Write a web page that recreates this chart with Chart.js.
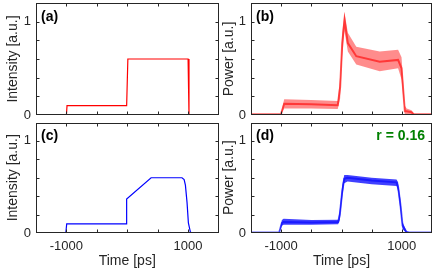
<!DOCTYPE html>
<html>
<head>
<meta charset="utf-8">
<script src="https://cdn.jsdelivr.net/npm/chart.js@4/dist/chart.umd.min.js"></script>
<style>
  html, body { margin: 0; padding: 0; background: #fff; }
  #wrap { position: relative; width: 442px; height: 271px; }
  canvas { position: absolute; }
</style>
</head>
<body>
<div id="wrap">
  <canvas id="pa" style="left:0;top:0"></canvas>
  <canvas id="pb" style="left:221px;top:0"></canvas>
  <canvas id="pc" style="left:0;top:119px"></canvas>
  <canvas id="pd" style="left:221px;top:119px"></canvas>
</div>
<script>
// (a) target intensity
const timeA = [-1500, -1000, -990, -10, 10, 1000, 1015, 1500]
const intA  = [0, 0, 0.1, 0.1, 0.6, 0.6, 0, 0]

// (c) optimised intensity
const timeC = [-1500, -1010, -995, -15, -10, 392, 900, 935, 956, 983, 1005, 1038, 1060, 1500]
const intC  = [0, 0, 0.1, 0.1, 0.37, 0.6, 0.6, 0.58, 0.52, 0.33, 0.11, 0.01, 0, 0]

// (b) measured power, red : centre of the dot cloud and its spread
const timeB  = [-1500, -1005, -950, -500, -62, -22, 12, 50, 105, 245, 633, 938, 995, 1050, 1080, 1160, 1200, 1500]
const coreB  = [0.005, 0.005, 0.12, 0.115, 0.105, 0.3, 0.77, 1.02, 0.77, 0.63, 0.57, 0.59, 0.5, 0.04, 0.04, 0.03, 0.005, 0.005]
const upperB = [0.015, 0.015, 0.17, 0.16, 0.15, 0.42, 0.88, 1.1, 0.88, 0.73, 0.68, 0.7, 0.62, 0.1, 0.07, 0.05, 0.015, 0.015]
const lowerB = [0, 0, 0.07, 0.07, 0.065, 0.18, 0.62, 0.9, 0.68, 0.54, 0.47, 0.5, 0.38, 0.0, 0.01, 0.01, 0, 0]

// (d) measured power, blue
const timeD  = [-1500, -1033, -988, -960, -500, -55, -28, 12, 45, 100, 500, 912, 938, 978, 1012, 1078, 1120, 1500]
const coreD  = [0.005, 0.005, 0.11, 0.12, 0.115, 0.12, 0.2, 0.45, 0.59, 0.6, 0.57, 0.55, 0.5, 0.3, 0.08, 0.01, 0.005, 0.005]
const upperD = [0.012, 0.012, 0.14, 0.155, 0.14, 0.145, 0.26, 0.52, 0.63, 0.63, 0.6, 0.58, 0.55, 0.36, 0.12, 0.02, 0.012, 0.012]
const lowerD = [0, 0, 0.08, 0.09, 0.09, 0.095, 0.14, 0.38, 0.54, 0.56, 0.53, 0.51, 0.45, 0.24, 0.04, 0, 0, 0]

const xTicks = [-1000, -500, 0, 500, 1000]
const yTicks = [0.2, 0.4, 0.6, 0.8, 1.0]
const xLabels = [-1000, 1000]
const yLabels = [0, 1]

const FONT = "'Liberation Sans', Arial, sans-serif"
const INK = '#262626'

const pts = (xs, ys) => xs.map((t, i) => ({ x: t, y: ys[i] }))

// box round the plot with inward ticks on all four sides, plus panel letters
const boxTicks = {
  id: 'boxTicks',
  afterDraw(chart, args, opts) {
    const { ctx, chartArea: a, scales: { x, y } } = chart
    const L = Math.round(a.left) + 0.5, R = Math.round(a.right) - 0.5
    const T = Math.round(a.top) + 0.5, B = Math.round(a.bottom) - 0.5
    ctx.save()
    ctx.strokeStyle = INK
    ctx.lineWidth = 1
    ctx.strokeRect(L, T, R - L, B - T)
    ctx.beginPath()
    xTicks.forEach(v => {
      const px = Math.round(x.getPixelForValue(v)) + 0.5
      ctx.moveTo(px, B); ctx.lineTo(px, B - 3)
      ctx.moveTo(px, T); ctx.lineTo(px, T + 3)
    })
    yTicks.forEach(v => {
      const py = Math.round(y.getPixelForValue(v)) + 0.5
      ctx.moveTo(L, py); ctx.lineTo(L + 3, py)
      ctx.moveTo(R, py); ctx.lineTo(R - 3, py)
    })
    ctx.stroke()
    ctx.textBaseline = 'middle'
    ctx.font = 'bold 14px ' + FONT
    ctx.fillStyle = '#000'
    ctx.textAlign = 'left'
    ctx.fillText(opts.letter, a.left + 5, a.top + 14)
    if (opts.note) {
      ctx.fillStyle = '#008000'
      ctx.textAlign = 'right'
      ctx.fillText(opts.note, a.right - 7, a.top + 14)
    }
    ctx.restore()
  }
}

function makePanel(id, cfg) {
  const bottomRow = !!cfg.bottomRow
  const cv = document.getElementById(id)
  cv.width = 221
  cv.height = bottomRow ? 152 : 119
  cv.style.width = cv.width + 'px'
  cv.style.height = cv.height + 'px'
  return new Chart(cv, {
    type: 'line',
    data: { datasets: cfg.datasets },
    options: {
      responsive: false,
      animation: false,
      events: [],
      layout: { padding: cfg.padding },
      plugins: {
        legend: { display: false },
        tooltip: { enabled: false },
        boxTicks: { letter: cfg.letter, note: cfg.note }
      },
      elements: { point: { radius: 0 }, line: { tension: 0 } },
      scales: {
        x: {
          type: 'linear', min: -1500, max: 1500,
          display: bottomRow,
          grid: { display: false, drawTicks: false },
          border: { display: false },
          ticks: {
            stepSize: 500, autoSkip: false, maxRotation: 0, padding: 6,
            color: INK, font: { family: FONT, size: 13 },
            callback: v => xLabels.includes(v) ? String(v) : ''
          },
          title: {
            display: true, text: 'Time [ps]', color: INK,
            font: { family: FONT, size: 14 }, padding: { top: 0, bottom: 1.6 }
          },
          afterFit: s => {
            s.height = bottomRow ? 38 : 0
            s.paddingLeft = 0; s.paddingRight = 0
          }
        },
        y: {
          min: 0, max: 1.2,
          grid: { display: false, drawTicks: false },
          border: { display: false },
          ticks: {
            stepSize: 0.2, autoSkip: false, padding: 5, color: INK,
            font: { family: FONT, size: 13 },
            callback: v => yLabels.some(k => Math.abs(k - v) < 1e-9) ? String(Math.round(v)) : ''
          },
          title: {
            display: true, text: cfg.yTitle, color: INK,
            font: { family: FONT, size: 14 }, padding: { top: cfg.titlePad, bottom: 0 }
          },
          afterFit: s => {
            s.width = cfg.yWidth
            s.paddingTop = 0; s.paddingBottom = 0
          }
        }
      }
    },
    plugins: [boxTicks]
  })
}

function cloud(xs, up, lo, core, rgb, alpha) {
  return [
    { data: pts(xs, up), borderWidth: 0, borderColor: 'transparent', backgroundColor: `rgba(${rgb},${alpha})`, fill: '+1' },
    { data: pts(xs, lo), borderWidth: 0, borderColor: 'transparent', fill: false },
    { data: pts(xs, core), borderWidth: 2, borderColor: `rgba(${rgb},0.6)`, fill: false }
  ]
}

makePanel('pa', {
  letter: '(a)', yTitle: 'Intensity [a.u.]', titlePad: 4.6, yWidth: 36,
  padding: { left: 0, top: 3, right: 2.5, bottom: 4 },
  datasets: [{ data: pts(timeA, intA), borderColor: '#ff0000', borderWidth: 1.2, fill: false }]
})

makePanel('pb', {
  letter: '(b)', yTitle: 'Power [a.u.]', titlePad: 0, yWidth: 30,
  padding: { left: 0, top: 3, right: 10, bottom: 4 },
  datasets: cloud(timeB, upperB, lowerB, coreB, '255,0,0', 0.45)
})

makePanel('pc', {
  bottomRow: true, letter: '(c)', yTitle: 'Intensity [a.u.]', titlePad: 4.6, yWidth: 36,
  padding: { left: 0, top: 3.5, right: 2.5, bottom: 0 },
  datasets: [{ data: pts(timeC, intC), borderColor: '#0000ff', borderWidth: 1.2, fill: false }]
})

makePanel('pd', {
  bottomRow: true, letter: '(d)', note: 'r = 0.16', yTitle: 'Power [a.u.]', titlePad: 0, yWidth: 30,
  padding: { left: 0, top: 3.5, right: 10, bottom: 0 },
  datasets: cloud(timeD, upperD, lowerD, coreD, '0,0,255', 0.75)
})
</script>
</body>
</html>
